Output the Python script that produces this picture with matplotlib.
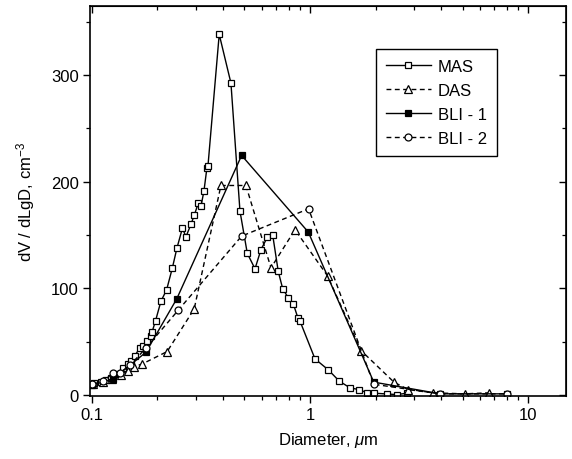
import matplotlib
matplotlib.use("Agg")
import matplotlib.pyplot as plt
from matplotlib.ticker import FixedLocator, NullFormatter, LogLocator, FuncFormatter

plt.rcParams['font.family'] = ['Liberation Sans', 'DejaVu Sans']
plt.rcParams['mathtext.fontset'] = 'custom'
plt.rcParams['mathtext.rm'] = 'Liberation Sans'
plt.rcParams['mathtext.it'] = 'Liberation Sans:italic'

# ---- data ----
mas_d = [0.1021, 0.1096, 0.1163, 0.1229, 0.1306, 0.1388, 0.1463, 0.1515, 0.1570, 0.1655,
         0.1714, 0.1794, 0.1859, 0.1891, 0.1960, 0.2073, 0.2202, 0.2340, 0.2454, 0.2602,
         0.2700, 0.2845, 0.2953, 0.3073, 0.3168, 0.3265, 0.3370, 0.3405, 0.3836, 0.4341,
         0.4775, 0.5158, 0.5596, 0.5957, 0.6369, 0.6743, 0.7153, 0.7497, 0.7952, 0.8384,
         0.8810, 0.8999, 1.054, 1.213, 1.363, 1.526, 1.678, 1.832, 1.972, 2.248, 2.499, 2.777]
mas_v = [11.0, 12.5, 14.1, 16.0, 19.7, 25.4, 29.1, 32.2, 36.3, 43.8,
         46.3, 51.0, 55.1, 59.4, 69.7, 87.8, 98.6, 119.2, 137.6, 156.5,
         148.4, 159.9, 169.0, 179.8, 177.5, 191.3, 213.1, 214.4, 338.3, 292.6,
         172.5, 132.9, 118.3, 136.2, 147.8, 150.2, 115.8, 99.6, 91.1, 85.4,
         72.0, 69.2, 33.8, 23.5, 12.9, 6.6, 5.0, 1.9, 1.6, 0.9, 0.3, 1.6]

das_d = [0.1011, 0.1123, 0.1235, 0.1358, 0.1463, 0.1558, 0.1705, 0.2215, 0.2946, 0.3906,
         0.5085, 0.6624, 0.8535, 1.203, 1.714, 2.428, 2.815, 3.647, 5.112, 6.645]
das_v = [10.3, 12.2, 15.0, 18.8, 22.5, 26.3, 29.1, 40.7, 80.7, 196.5,
         196.5, 119.2, 155.0, 111.7, 41.6, 11.9, 5.0, 2.0, 1.0, 2.0]

bli1_d = [0.1, 0.125, 0.177, 0.245, 0.486, 0.982, 1.96, 3.95, 7.98]
bli1_v = [9.0, 15.0, 40.0, 90.1, 224.7, 152.8, 12.0, 1.0, 1.0]

bli2_d = [0.1, 0.113, 0.125, 0.135, 0.15, 0.177, 0.249, 0.486, 0.985, 1.96, 3.95, 7.98]
bli2_v = [10.0, 13.0, 20.4, 21.0, 28.0, 44.0, 79.5, 149.0, 174.6, 10.0, 1.0, 1.0]

labels = ['MAS', 'DAS', 'BLI - 1', 'BLI - 2']
x_ticks = [0.1, 1, 10]
y_ticks = [0, 100, 200, 300]

fig = plt.figure(figsize=(5.72, 4.60), dpi=100)
ax = fig.add_axes([0.157, 0.137, 0.8325, 0.848])

dash = (0, (3.5, 2.5))
ax.plot(mas_d, mas_v, color='black', lw=1.0, ls='-', marker='s', ms=4,
        mfc='white', mec='black', mew=0.9, label=labels[0])
ax.plot(das_d, das_v, color='black', lw=1.0, ls=dash, marker='^', ms=5.5,
        mfc='white', mec='black', mew=0.9, label=labels[1])
ax.plot(bli1_d, bli1_v, color='black', lw=1.0, ls='-', marker='s', ms=4,
        mfc='black', mec='black', mew=0.9, label=labels[2])
ax.plot(bli2_d, bli2_v, color='black', lw=1.0, ls=dash, marker='o', ms=5,
        mfc='white', mec='black', mew=0.9, label=labels[3])

ax.set_xscale('log')
ax.set_xlim(0.0979, 14.9)
ax.set_ylim(-1, 365)

ax.xaxis.set_major_locator(FixedLocator(x_ticks))
ax.xaxis.set_major_formatter(FuncFormatter(lambda v, p: ('%g' % v)))
ax.xaxis.set_minor_locator(LogLocator(base=10, subs=range(2, 10)))
ax.xaxis.set_minor_formatter(NullFormatter())
ax.yaxis.set_major_locator(FixedLocator(y_ticks))
ax.yaxis.set_minor_locator(FixedLocator([50, 150, 250, 350]))

ax.tick_params(which='major', direction='out', length=5, width=1.0, labelsize=12, pad=3)
ax.tick_params(which='minor', direction='out', length=3, width=0.9)
for s in ax.spines.values():
    s.set_linewidth(1.2)

# mirrored inward ticks on top and right
top = ax.secondary_xaxis('top')
top.xaxis.set_major_locator(FixedLocator(x_ticks))
top.xaxis.set_minor_locator(LogLocator(base=10, subs=range(2, 10)))
top.xaxis.set_major_formatter(NullFormatter())
top.xaxis.set_minor_formatter(NullFormatter())
top.tick_params(which='major', direction='in', length=5, width=1.0)
top.tick_params(which='minor', direction='in', length=3, width=0.9)
right = ax.secondary_yaxis('right')
right.yaxis.set_major_locator(FixedLocator(y_ticks))
right.yaxis.set_minor_locator(FixedLocator([50, 150, 250, 350]))
right.yaxis.set_major_formatter(NullFormatter())
right.tick_params(which='major', direction='in', length=5, width=1.0)
right.tick_params(which='minor', direction='in', length=3, width=0.9)

ax.set_xlabel(r'Diameter, $\mathit{\mu}$m', fontsize=12, labelpad=6)
ax.set_ylabel(r'dV / dLgD, cm$^{-3}$', fontsize=12, labelpad=10)

leg = ax.legend(loc='upper left', bbox_to_anchor=(0.601, 0.890), fontsize=12,
                frameon=True, fancybox=False, edgecolor='black', framealpha=1,
                handlelength=2.7, handletextpad=0.4, labelspacing=0.55,
                borderpad=0.6, borderaxespad=0, numpoints=1)
leg.get_frame().set_linewidth(1.0)

fig.savefig('out.png', dpi=100)
